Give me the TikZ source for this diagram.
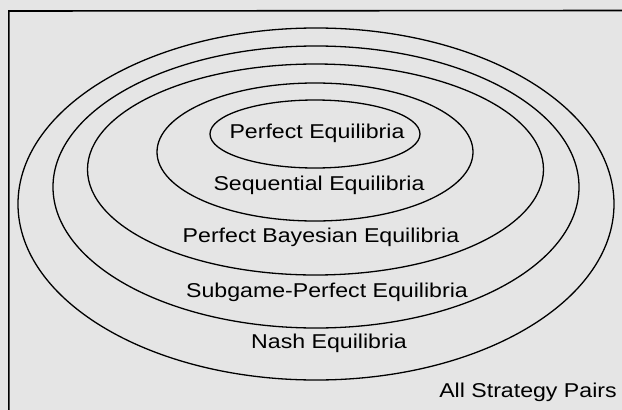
\documentclass[tikz,border=0pt]{standalone}
\usepackage{fontspec}
\setmainfont[FakeStretch=1.157]{Liberation Sans}
\begin{document}
\begin{tikzpicture}[x=1pt,y=-1pt,
  setline/.style={line width=1.3pt, black},
  lbl/.style={inner sep=0pt, font=\fontsize{20}{24}\selectfont, text=black}]
\useasboundingbox (0,0) rectangle (622,410);
\fill[black!10] (0,0) rectangle (622,410);
% frame
\draw[line width=1.6pt, black] (8.8,410) -- (8.8,11) -- (622,10.5);
% nested sets
\draw[setline] (316,204) ellipse [x radius=298, y radius=176];
\draw[setline] (316,187) ellipse [x radius=263, y radius=141];
\draw[setline] (315.5,169.5) ellipse [x radius=228, y radius=105.5];
\draw[setline] (315,152) ellipse [x radius=158, y radius=69];
\draw[setline] (315,134) ellipse [x radius=105, y radius=34];
% labels
\node[lbl] (pe)  at (317,133) {Perfect Equilibria};
\node[lbl] (se)  at (319,185) {Sequential Equilibria};
\node[lbl] (pbe) at (321,237) {Perfect Bayesian Equilibria};
\node[lbl] (spe) at (327,292) {Subgame-Perfect Equilibria};
\node[lbl] (ne)  at (329,343) {Nash Equilibria};
\node[lbl] (all) at (528,392) {All Strategy Pairs};
\end{tikzpicture}
\end{document}
